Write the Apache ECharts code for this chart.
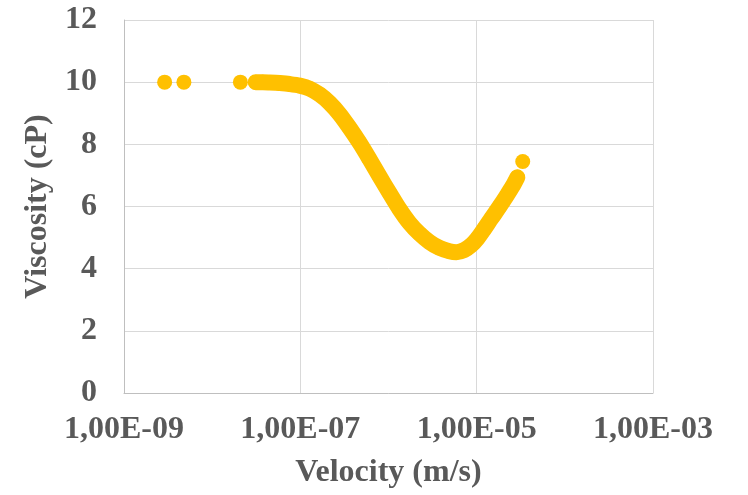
<!DOCTYPE html>
<html>
<head>
<meta charset="utf-8">
<script src="https://cdn.jsdelivr.net/npm/echarts@6/dist/echarts.min.js"></script>
<style>
html,body{margin:0;padding:0;background:#fff;}
#chart{width:748px;height:495px;}
</style>
</head>
<body>
<div id="chart"></div>
<script>
// Velocity (m/s)
const velocity = [
  2.89e-9, 4.78e-9, 2.09e-8,
  3.12e-8, 3.75e-8, 4.50e-8, 5.83e-8, 7.57e-8, 9.84e-8,
  1.28e-7, 1.66e-7, 2.15e-7, 2.79e-7, 3.62e-7, 4.70e-7, 6.10e-7, 7.91e-7,
  1.03e-6, 1.33e-6, 1.73e-6, 2.24e-6, 2.91e-6, 3.77e-6, 4.91e-6, 5.89e-6, 7.24e-6, 8.71e-6,
  1.02e-5, 1.22e-5, 1.47e-5, 1.81e-5, 2.17e-5, 2.54e-5, 2.89e-5,
  3.33e-5
];
// Viscosity (cP)
const viscosity = [
  10.00, 10.00, 10.00,
  10.00, 10.00, 9.99, 9.97, 9.94, 9.89,
  9.79, 9.60, 9.33, 8.97, 8.53, 8.05, 7.52, 6.97,
  6.43, 5.92, 5.47, 5.13, 4.86, 4.67, 4.56, 4.53, 4.60, 4.76,
  4.97, 5.28, 5.62, 5.99, 6.33, 6.64, 6.94,
  7.45
];
// index range of the dense (continuous) run of points
const denseStart = 3;
const denseEnd = 33;

const xTickLabels = ['1,00E-09', '1,00E-07', '1,00E-05', '1,00E-03'];
const yTickLabels = ['0', '2', '4', '6', '8', '10', '12'];

const allPts = velocity.map((v, i) => [v, viscosity[i]]);
const densePts = allPts.slice(denseStart, denseEnd + 1);

const txt = {fontFamily: 'Liberation Serif', fontWeight: 'bold', color: '#595959', fontSize: 32};
const chart = echarts.init(document.getElementById('chart'));
chart.setOption({
  animation: false,
  backgroundColor: '#ffffff',
  grid: {left: 124, right: 95, top: 20, bottom: 102, containLabel: false},
  xAxis: {
    type: 'log', logBase: 10, min: 1e-9, max: 1e-3, interval: 2,
    name: 'Velocity (m/s)', nameLocation: 'middle', nameGap: 64,
    nameTextStyle: txt,
    axisLine: {show: true, lineStyle: {color: '#bfbfbf', width: 1}},
    axisTick: {show: false},
    minorTick: {show: false},
    splitLine: {show: true, lineStyle: {color: '#d9d9d9', width: 1}},
    axisLabel: Object.assign({}, txt, {margin: 21, formatter: (v, i) => xTickLabels[i]})
  },
  yAxis: {
    type: 'value', min: 0, max: 12, interval: 2,
    name: 'Viscosity (cP)', nameLocation: 'middle', nameGap: 69,
    nameTextStyle: txt,
    axisLine: {show: true, lineStyle: {color: '#bfbfbf', width: 1}},
    axisTick: {show: false},
    splitLine: {show: true, lineStyle: {color: '#d9d9d9', width: 1}},
    axisLabel: Object.assign({}, txt, {margin: 27, formatter: (v, i) => yTickLabels[i]})
  },
  series: [
    {
      type: 'line', data: densePts, showSymbol: false, smooth: 0.3,
      lineStyle: {color: '#FFC000', width: 16, cap: 'round', join: 'round'},
      z: 2, silent: true
    },
    {
      type: 'scatter', data: allPts, symbol: 'circle', symbolSize: 15,
      itemStyle: {color: '#FFC000', opacity: 1}, z: 3
    }
  ]
});
</script>
</body>
</html>
